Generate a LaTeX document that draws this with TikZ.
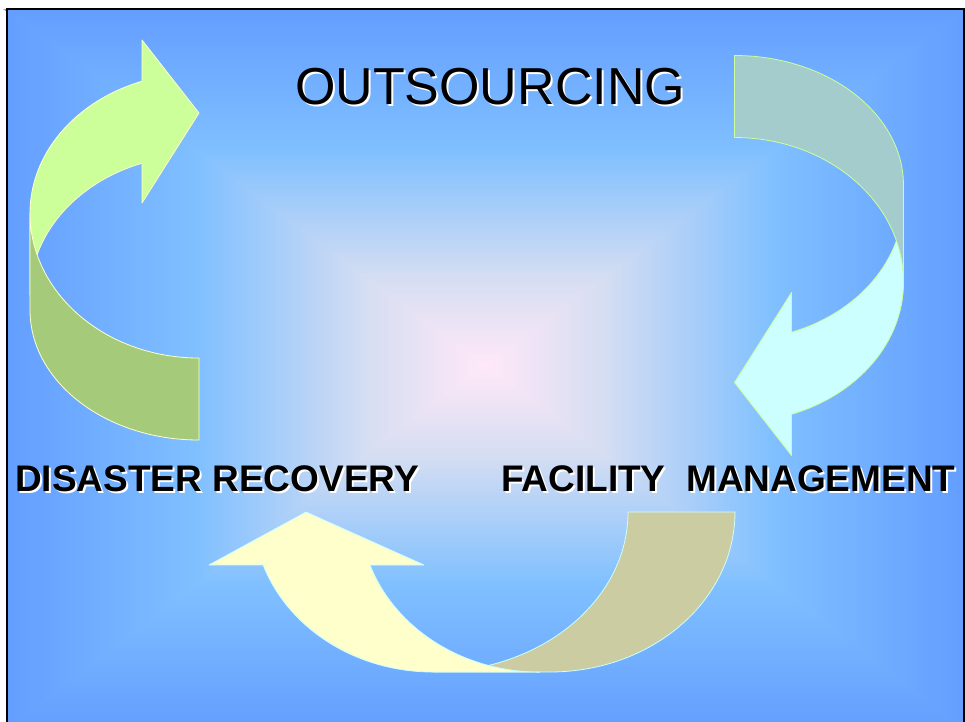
\documentclass[tikz,border=0pt]{standalone}
\usepackage{fontspec}
\setmainfont{Liberation Sans}

% Slide colours
\definecolor{slideedge}{RGB}{99,158,255}
\definecolor{slidemid}{RGB}{128,192,255}
\definecolor{slidehaze}{RGB}{215,222,242}
\definecolor{slidecore}{RGB}{255,232,248}
\definecolor{drfront}{RGB}{204,255,153}
\definecolor{drback}{RGB}{165,203,122}
\definecolor{fmfront}{RGB}{204,255,255}
\definecolor{fmback}{RGB}{164,204,204}
\definecolor{osfront}{RGB}{255,255,204}
\definecolor{osback}{RGB}{204,204,163}

% Glow from the centre of the slide out to its edge
\pgfdeclareverticalshading{slideglow}{100bp}{color(0bp)=(slidecore); color(25bp)=(slidecore);
    color(37bp)=(slidehaze); color(55bp)=(slidemid); color(75bp)=(slideedge); color(100bp)=(slideedge)}

% Black text with a white drop shadow
\newcommand{\liftedtext}[1]{\makebox[0pt][l]{\kern2pt\raisebox{-2pt}{\color{white}#1}}#1}

\begin{document}
\begin{tikzpicture}[x=1pt, y=-1pt,
        band/.style={line width=0.8pt, line join=round},
        title text/.style={font=\fontsize{52}{56}\selectfont, inner sep=0pt, anchor=base},
        cycle text/.style={font=\fontsize{37}{40}\selectfont\bfseries, inner sep=0pt, anchor=base west}]

        \useasboundingbox (0,0) rectangle (965,721);

        % Background, four triangles meeting at the centre
        % (top and bottom ones a little wider so no seam shows)
        \coordinate (core) at (485,365);
        \shade[shading=slideglow, shading angle=90] (7,9) -- (7,730) -- (core) -- cycle;
        \shade[shading=slideglow, shading angle=270] (964,9) -- (964,730) -- (core) -- cycle;
        \shade[shading=slideglow] (3,9) -- (968,9) -- (488,366) -- (482,366) -- cycle;
        \shade[shading=slideglow, shading angle=180] (3,730) -- (968,730) -- (488,364) -- (482,364) -- cycle;
        \draw[line width=2pt] (7,730) -- (7,9) -- (964,9) -- (964,730);

        % Disaster recovery arrow: front band, then its back
        \filldraw[band, fill=drfront, draw=osfront] (30,295) -- (30,213)
            arc[start angle=180, end angle=250.3, x radius=169, y radius=140]
            -- (142,40) -- (199,113) -- (142,203) -- (142,163.2)
            arc[start angle=250.3, end angle=180, x radius=169, y radius=140] -- cycle;
        \filldraw[band, fill=drback, draw=osfront] (199,358)
            arc[start angle=90, end angle=180, x radius=169, y radius=145]
            -- (30,310) arc[start angle=180, end angle=90, x radius=169, y radius=130] -- cycle;

        % Facility management arrow, the same shape turned round
        \begin{scope}[rotate around={180:(466.75,247.75)}]
            \filldraw[band, fill=fmfront, draw=drfront] (30,295) -- (30,213)
                arc[start angle=180, end angle=250.3, x radius=169, y radius=140]
                -- (142,40) -- (199,113) -- (142,203) -- (142,163.2)
                arc[start angle=250.3, end angle=180, x radius=169, y radius=140] -- cycle;
            \filldraw[band, fill=fmback, draw=drfront] (199,358)
                arc[start angle=90, end angle=180, x radius=169, y radius=145]
                -- (30,310) arc[start angle=180, end angle=90, x radius=169, y radius=130] -- cycle;
        \end{scope}

        % Outsourcing arrow along the bottom: back, then front band
        \filldraw[band, fill=osback, draw=fmfront] (735,512)
            arc[start angle=0, end angle=90, x radius=185, y radius=160]
            -- (433,672) arc[start angle=90, end angle=0, x radius=195, y radius=160] -- cycle;
        \filldraw[band, fill=osfront, draw=fmfront] (540,672) -- (433,672)
            arc[start angle=90, end angle=160.7, x radius=180, y radius=160]
            -- (209,565) -- (306,512) -- (424,565) -- (370,565)
            arc[start angle=160.7, end angle=90, x radius=180, y radius=160] -- cycle;

        % Labels
        \node[title text] (outsourcing) at (490,104) {\liftedtext{OUTSOURCING}};
        \node[cycle text] (disaster) at (15,491) {\liftedtext{DISASTER RECOVERY}};
        \node[cycle text] (facility) at (501,491) {\liftedtext{FACILITY\ \ MANAGEMENT}};
    \end{tikzpicture}
\end{document}
